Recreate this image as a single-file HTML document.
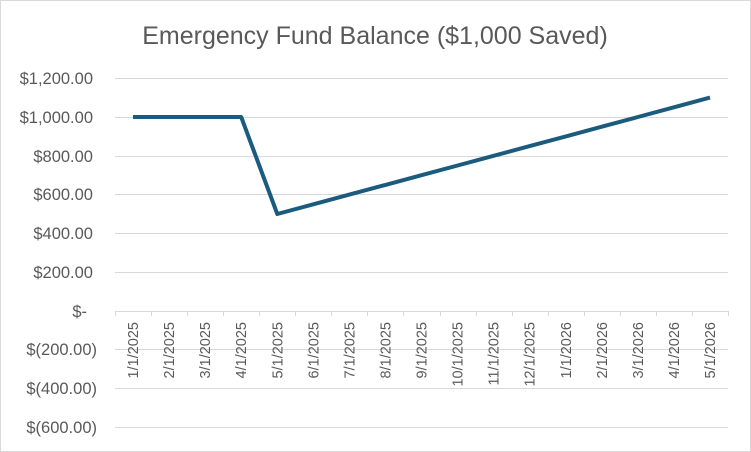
<!DOCTYPE html><html><head><style>body{margin:0;background:#fff}svg{display:block}text{font-family:"Liberation Sans",sans-serif;fill:#595959}</style></head><body>
<svg width="751" height="452" viewBox="0 0 751 452">
<rect x="0.5" y="0.5" width="750" height="451" fill="#fff" stroke="#d9d9d9"/>
<text x="375" y="44" text-anchor="middle" font-size="25">Emergency Fund Balance ($1,000 Saved)</text>
<g stroke="#d9d9d9" stroke-width="1">
<line x1="115" x2="728" y1="78.5" y2="78.5"/><line x1="115" x2="728" y1="117.5" y2="117.5"/><line x1="115" x2="728" y1="156.5" y2="156.5"/><line x1="115" x2="728" y1="194.5" y2="194.5"/><line x1="115" x2="728" y1="233.5" y2="233.5"/><line x1="115" x2="728" y1="272.5" y2="272.5"/><line x1="115" x2="728" y1="349.5" y2="349.5"/><line x1="115" x2="728" y1="388.5" y2="388.5"/><line x1="115" x2="728" y1="427.5" y2="427.5"/>
<line x1="115" x2="728" y1="311.5" y2="311.5"/>
</g>
<g font-size="16.5" text-anchor="end">
<text x="93" y="84">$1,200.00</text><text x="93" y="123">$1,000.00</text><text x="93" y="162">$800.00</text><text x="93" y="200">$600.00</text><text x="93" y="239">$400.00</text><text x="93" y="278">$200.00</text><text x="87" y="317">$-</text><text x="97" y="355">$(200.00)</text><text x="97" y="394">$(400.00)</text><text x="97" y="433">$(600.00)</text>
</g>
<g id="ticks" stroke="#d9d9d9"></g>
<g id="labels" font-size="14.5" text-anchor="end"></g>
<polyline id="line" fill="none" stroke="#1b5c7e" stroke-width="4" stroke-linejoin="round" points=""/>
</svg>
<script>
var d=[1000,1000,1000,1000,500,550,600,650,700,750,800,850,900,950,1000,1050,1100];
var lb=["1/1/2025","2/1/2025","3/1/2025","4/1/2025","5/1/2025","6/1/2025","7/1/2025","8/1/2025","9/1/2025","10/1/2025","11/1/2025","12/1/2025","1/1/2026","2/1/2026","3/1/2026","4/1/2026","5/1/2026"];
var ns="http://www.w3.org/2000/svg",st=36.06,p=[];
var T=document.getElementById("ticks"),L=document.getElementById("labels");
for(var i=0;i<=17;i++){var l=document.createElementNS(ns,"line");var x=Math.round(115+i*st)+0.5;l.setAttribute("x1",x);l.setAttribute("x2",x);l.setAttribute("y1",311);l.setAttribute("y2",316);T.appendChild(l);}
for(var i=0;i<17;i++){var cx=115+(i+0.5)*st;p.push(cx.toFixed(1)+","+(311-d[i]*0.194).toFixed(1));
var t=document.createElementNS(ns,"text");t.setAttribute("transform","translate("+(cx+5)+",322) rotate(-90)");t.textContent=lb[i];L.appendChild(t);}
document.getElementById("line").setAttribute("points",p.join(" "));
</script>
</body></html>
